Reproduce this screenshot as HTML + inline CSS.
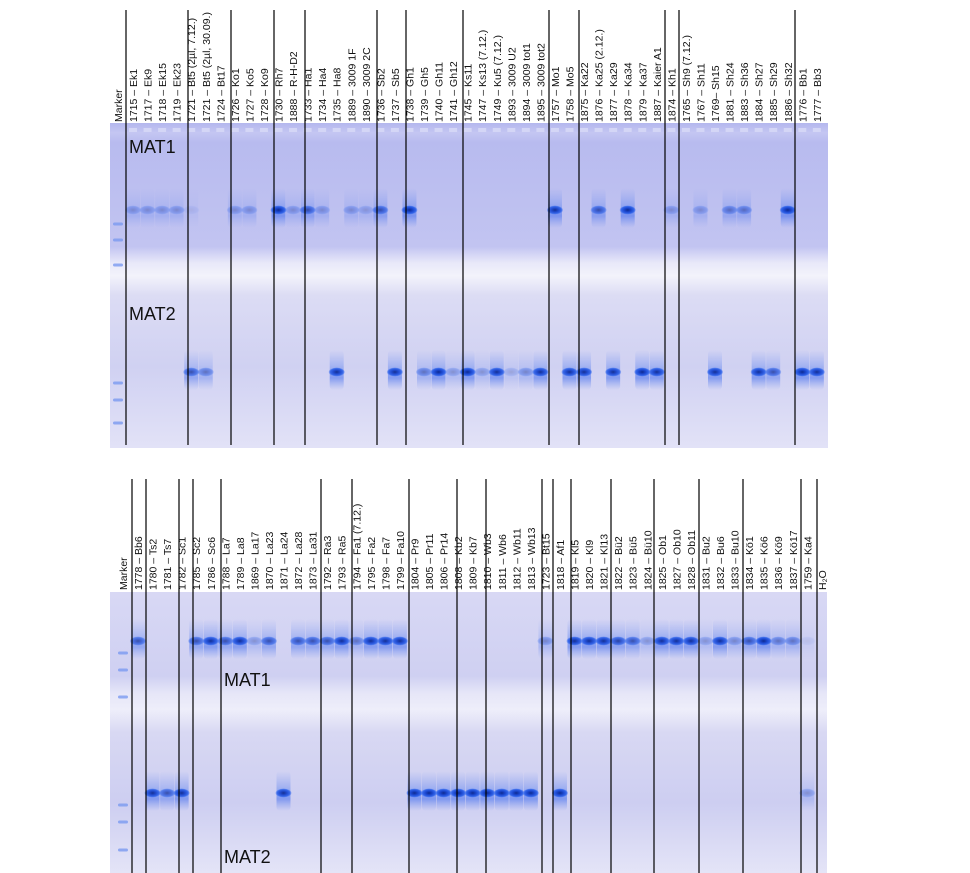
<!DOCTYPE html>
<html><head><meta charset="utf-8"><style>
html,body{margin:0;padding:0;background:#fff;}
svg{display:block;}
text{font-family:"Liberation Sans",sans-serif;}
.l{font-size:10.5px;fill:#111;}
.m{font-size:18px;fill:#111;}
</style></head><body>
<svg id="s" width="970" height="873" viewBox="0 0 970 873" xmlns="http://www.w3.org/2000/svg">
<defs>
<linearGradient id="g1" x1="0" y1="0" x2="0" y2="1">
<stop offset="0" stop-color="#b4b7ee"/><stop offset="0.03" stop-color="#c4c6f2"/><stop offset="0.06" stop-color="#b8bbef"/>
<stop offset="0.38" stop-color="#c2c4f1"/><stop offset="0.43" stop-color="#e8e8f9"/><stop offset="0.47" stop-color="#f3f3fb"/>
<stop offset="0.53" stop-color="#dcdcf4"/><stop offset="0.75" stop-color="#d0d1f2"/><stop offset="1" stop-color="#e2e2f7"/>
</linearGradient>
<linearGradient id="g2" x1="0" y1="0" x2="0" y2="1">
<stop offset="0" stop-color="#d8d8f4"/><stop offset="0.3" stop-color="#cfd0f2"/><stop offset="0.36" stop-color="#e6e6f8"/>
<stop offset="0.42" stop-color="#eeeefa"/><stop offset="0.5" stop-color="#d8d8f3"/><stop offset="0.75" stop-color="#cdcef1"/>
<stop offset="1" stop-color="#e4e4f7"/>
</linearGradient>
<linearGradient id="sm" x1="0" y1="0" x2="0" y2="1">
<stop offset="0" stop-color="#6d8ef0" stop-opacity="0"/>
<stop offset="0.55" stop-color="#5a80f0" stop-opacity="0.55"/>
<stop offset="0.7" stop-color="#4a72ee" stop-opacity="0.6"/>
<stop offset="1" stop-color="#6d8ef0" stop-opacity="0"/>
</linearGradient>
<radialGradient id="bd" cx="0.5" cy="0.5" r="0.5">
<stop offset="0" stop-color="#0e2a90"/><stop offset="0.45" stop-color="#1c48d0"/><stop offset="0.8" stop-color="#3466ea"/><stop offset="1" stop-color="#4a78ee" stop-opacity="0.3"/>
</radialGradient>
<g id="b">
<rect x="-7" y="-22" width="14" height="40" rx="4" fill="url(#sm)"/>
<ellipse cx="0" cy="0" rx="8" ry="4.5" fill="url(#bd)"/>
</g>
<g id="mk"><rect x="-5" y="-1.5" width="10" height="3" rx="1.5" fill="#7a9af0"/></g>
</defs>
<rect x="110" y="123" width="718" height="325" fill="url(#g1)"/>
<rect x="110" y="592" width="717" height="281" fill="url(#g2)"/>
<g id="bands"></g>
<g id="lines" stroke="#000" stroke-width="1.2"></g>
<text class="m" x="129" y="153">MAT1</text>
<text class="m" x="129" y="320">MAT2</text>
<text class="m" x="224" y="686">MAT1</text>
<text class="m" x="224" y="863">MAT2</text>
<g class="l">
<text transform="translate(122,122) rotate(-90)">Marker</text>
<text transform="translate(137,122) rotate(-90)">1715 – Ek1</text>
<text transform="translate(151.6,122) rotate(-90)">1717 – Ek9</text>
<text transform="translate(166.1,122) rotate(-90)">1718 – Ek15</text>
<text transform="translate(180.7,122) rotate(-90)">1719 – Ek23</text>
<text transform="translate(195.2,122) rotate(-90)">1721 – Bt5 (2µl, 7.12.)</text>
<text transform="translate(209.8,122) rotate(-90)">1721 – Bt5 (2µl, 30.09.)</text>
<text transform="translate(224.3,122) rotate(-90)">1724 – Bt17</text>
<text transform="translate(238.9,122) rotate(-90)">1726 – Ko1</text>
<text transform="translate(253.4,122) rotate(-90)">1727 – Ko5</text>
<text transform="translate(268,122) rotate(-90)">1728 – Ko9</text>
<text transform="translate(282.5,122) rotate(-90)">1730 – Rh7</text>
<text transform="translate(297,122) rotate(-90)">1888 – R-H-D2</text>
<text transform="translate(311.6,122) rotate(-90)">1733 – Ha1</text>
<text transform="translate(326.2,122) rotate(-90)">1734 – Ha4</text>
<text transform="translate(340.7,122) rotate(-90)">1735 – Ha8</text>
<text transform="translate(355.3,122) rotate(-90)">1889 – 3009 1F</text>
<text transform="translate(369.8,122) rotate(-90)">1890 – 3009 2C</text>
<text transform="translate(384.4,122) rotate(-90)">1736 – Sb2</text>
<text transform="translate(398.9,122) rotate(-90)">1737 – Sb5</text>
<text transform="translate(413.5,122) rotate(-90)">1738 – Gh1</text>
<text transform="translate(428,122) rotate(-90)">1739 – Gh5</text>
<text transform="translate(442.6,122) rotate(-90)">1740 – Gh11</text>
<text transform="translate(457.1,122) rotate(-90)">1741 – Gh12</text>
<text transform="translate(471.7,122) rotate(-90)">1745 – Ks11</text>
<text transform="translate(486.2,122) rotate(-90)">1747 – Ks13 (7.12.)</text>
<text transform="translate(500.8,122) rotate(-90)">1749 – Ku5 (7.12.)</text>
<text transform="translate(515.3,122) rotate(-90)">1893 – 3009 U2</text>
<text transform="translate(529.9,122) rotate(-90)">1894 – 3009 tot1</text>
<text transform="translate(544.4,122) rotate(-90)">1895 – 3009 tot2</text>
<text transform="translate(559,122) rotate(-90)">1757 – Mo1</text>
<text transform="translate(573.5,122) rotate(-90)">1758 – Mo5</text>
<text transform="translate(588.1,122) rotate(-90)">1875 – Ka22</text>
<text transform="translate(602.6,122) rotate(-90)">1876 – Ka25 (2.12.)</text>
<text transform="translate(617.2,122) rotate(-90)">1877 – Ka29</text>
<text transform="translate(631.7,122) rotate(-90)">1878 – Ka34</text>
<text transform="translate(646.3,122) rotate(-90)">1879 – Ka37</text>
<text transform="translate(660.8,122) rotate(-90)">1887 – Kaier A1</text>
<text transform="translate(675.4,122) rotate(-90)">1874 – Kh1</text>
<text transform="translate(689.9,122) rotate(-90)">1765 – Sh9 (7.12.)</text>
<text transform="translate(704.5,122) rotate(-90)">1767 – Sh11</text>
<text transform="translate(719,122) rotate(-90)">1769– Sh15</text>
<text transform="translate(733.6,122) rotate(-90)">1881 – Sh24</text>
<text transform="translate(748.1,122) rotate(-90)">1883 – Sh36</text>
<text transform="translate(762.7,122) rotate(-90)">1884 – Sh27</text>
<text transform="translate(777.2,122) rotate(-90)">1885 – Sh29</text>
<text transform="translate(791.8,122) rotate(-90)">1886 – Sh32</text>
<text transform="translate(806.3,122) rotate(-90)">1776 – Bb1</text>
<text transform="translate(820.9,122) rotate(-90)">1777 – Bb3</text>

<text transform="translate(127,590) rotate(-90)">Marker</text>
<text transform="translate(142,590) rotate(-90)">1778 – Bb6</text>
<text transform="translate(156.6,590) rotate(-90)">1780 – Ts2</text>
<text transform="translate(171.1,590) rotate(-90)">1781 – Ts7</text>
<text transform="translate(185.7,590) rotate(-90)">1782 – Sc1</text>
<text transform="translate(200.2,590) rotate(-90)">1785 – Sc2</text>
<text transform="translate(214.8,590) rotate(-90)">1786 – Sc6</text>
<text transform="translate(229.3,590) rotate(-90)">1788 – La7</text>
<text transform="translate(243.9,590) rotate(-90)">1789 – La8</text>
<text transform="translate(258.4,590) rotate(-90)">1869 – La17</text>
<text transform="translate(273,590) rotate(-90)">1870 – La23</text>
<text transform="translate(287.5,590) rotate(-90)">1871 – La24</text>
<text transform="translate(302,590) rotate(-90)">1872 – La28</text>
<text transform="translate(316.6,590) rotate(-90)">1873 – La31</text>
<text transform="translate(331.2,590) rotate(-90)">1792 – Ra3</text>
<text transform="translate(345.7,590) rotate(-90)">1793 – Ra5</text>
<text transform="translate(360.3,590) rotate(-90)">1794 – Fa1 (7.12.)</text>
<text transform="translate(374.8,590) rotate(-90)">1795 – Fa2</text>
<text transform="translate(389.4,590) rotate(-90)">1798 – Fa7</text>
<text transform="translate(403.9,590) rotate(-90)">1799 – Fa10</text>
<text transform="translate(418.5,590) rotate(-90)">1804 – Pr9</text>
<text transform="translate(433,590) rotate(-90)">1805 – Pr11</text>
<text transform="translate(447.6,590) rotate(-90)">1806 – Pr14</text>
<text transform="translate(462.1,590) rotate(-90)">1808 – Kb2</text>
<text transform="translate(476.7,590) rotate(-90)">1809 – Kb7</text>
<text transform="translate(491.2,590) rotate(-90)">1810 – Wb3</text>
<text transform="translate(505.8,590) rotate(-90)">1811 – Wb6</text>
<text transform="translate(520.3,590) rotate(-90)">1812 – Wb11</text>
<text transform="translate(534.9,590) rotate(-90)">1813 – Wb13</text>
<text transform="translate(549.4,590) rotate(-90)">1723 – Bt15</text>
<text transform="translate(564,590) rotate(-90)">1818 – Af1</text>
<text transform="translate(578.5,590) rotate(-90)">1819 – Kl5</text>
<text transform="translate(593.1,590) rotate(-90)">1820 – Kl9</text>
<text transform="translate(607.6,590) rotate(-90)">1821 – Kl13</text>
<text transform="translate(622.2,590) rotate(-90)">1822 – Bü2</text>
<text transform="translate(636.7,590) rotate(-90)">1823 – Bü5</text>
<text transform="translate(651.3,590) rotate(-90)">1824 – Bü10</text>
<text transform="translate(665.8,590) rotate(-90)">1825 – Ob1</text>
<text transform="translate(680.4,590) rotate(-90)">1827 – Ob10</text>
<text transform="translate(694.9,590) rotate(-90)">1828 – Ob11</text>
<text transform="translate(709.5,590) rotate(-90)">1831 – Bu2</text>
<text transform="translate(724,590) rotate(-90)">1832 – Bu6</text>
<text transform="translate(738.6,590) rotate(-90)">1833 – Bu10</text>
<text transform="translate(753.1,590) rotate(-90)">1834 – Kö1</text>
<text transform="translate(767.7,590) rotate(-90)">1835 – Kö6</text>
<text transform="translate(782.2,590) rotate(-90)">1836 – Kö9</text>
<text transform="translate(796.8,590) rotate(-90)">1837 – Kö17</text>
<text transform="translate(811.3,590) rotate(-90)">1759 – Ka4</text>
<text transform="translate(825.9,590) rotate(-90)">H₂O</text>
</g>
</svg>
<script>
(function(){
var NS="http://www.w3.org/2000/svg";
var bg=document.getElementById("bands"), lg=document.getElementById("lines");
function use(id,x,y,op){var u=document.createElementNS(NS,"use");u.setAttribute("href","#"+id);u.setAttribute("x",x);u.setAttribute("y",y);u.setAttribute("opacity",op);bg.appendChild(u);}
function line(x,y1,y2){var l=document.createElementNS(NS,"line");l.setAttribute("x1",x);l.setAttribute("x2",x);l.setAttribute("y1",y1);l.setAttribute("y2",y2);lg.appendChild(l);}
for(var i=0;i<48;i++){var r=document.createElementNS(NS,"rect");r.setAttribute("x",129+14.55*i);r.setAttribute("y",128);r.setAttribute("width",8);r.setAttribute("height",4);r.setAttribute("fill","#d4d6f6");bg.appendChild(r);}
var t1=[1,1,1,1,.3,0,0,1,1,0,3,1,2,1,0,1,.8,2,0,3,0,0,0,0,0,0,0,0,0,2.5,0,0,2,0,3,0,0,1,0,1,0,1.5,1.5,0,0,3,0,0];
var t2=[0,0,0,0,2,1.5,0,0,0,0,0,0,0,0,2.5,0,0,0,2.5,0,1.5,3,1,3,1,2.5,.7,1.2,2.5,0,2.5,2.5,0,2.5,0,3,2.5,0,0,0,2.5,0,0,2.5,2,0,3,2.5];
for(i=0;i<48;i++){var x=133+14.55*i;if(t1[i])use("b",x,210,Math.min(1,t1[i]/2.6));if(t2[i])use("b",x,372,Math.min(1,t2[i]/2.6));}
var b1=[2,0,0,0,2,2.5,2,2.5,1,2,0,2,2,2,2.5,1.5,2.5,2.5,2.5,0,0,0,0,0,0,0,0,0,1.2,0,2.5,2.5,2.5,2.2,2,1,2.5,2.5,2.5,1,2.5,1.2,2,2.8,1.5,1.5,.3,0];
var b2=[0,2.5,2,2.5,0,0,0,0,0,0,2.5,0,0,0,0,0,0,0,0,3,3,3,3,3,3,3,3,3,0,3,0,0,0,0,0,0,0,0,0,0,0,0,0,0,0,0,1,0];
for(i=0;i<48;i++){var x=138+14.55*i;if(b1[i])use("b",x,641,Math.min(1,b1[i]/2.6));if(b2[i])use("b",x,793,Math.min(1,b2[i]/2.6));}
[224,240,265,383,400,423].forEach(function(y){use("mk",118,y,.8);});
[653,670,697,805,822,850].forEach(function(y){use("mk",123,y,.8);});
[126,188,231,274,305,377,406,463,549,579,665,679,795].forEach(function(x){line(x,10,445);});
[132,146,179,193,221,321,352,409,457,486,542,553,571,611,654,699,743,801,817].forEach(function(x){line(x,479,873);});
})();
</script>
</body></html>
